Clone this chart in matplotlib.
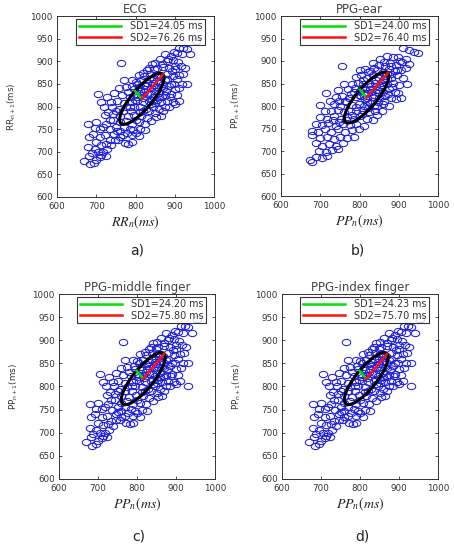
import matplotlib
matplotlib.use("Agg")
import matplotlib.pyplot as plt
from matplotlib.patches import Ellipse
from matplotlib.lines import Line2D
from matplotlib.markers import MarkerStyle
from matplotlib.transforms import Affine2D
import numpy as np

plt.rcParams['font.family'] = ['DejaVu Sans']
plt.rcParams['mathtext.fontset'] = 'stix'

# points
ecg_points = [
    (955, 945), (912, 930), (922, 930), (930, 928),
    (875, 915), (890, 912), (905, 918), (918, 915), (940, 915),
    (763, 897), (850, 897), (862, 905), (880, 900), (895, 903), (908, 898),
    (835, 885), (848, 882), (870, 888), (885, 885), (900, 882), (915, 890), (925, 885),
    (808, 870), (820, 875), (838, 872), (852, 870), (866, 866), (880, 872), (895, 868), (910, 870), (920, 872),
    (770, 858), (800, 855), (815, 858), (830, 852), (845, 852), (860, 855), (875, 858), (890, 850),
    (905, 860), (918, 850), (932, 850),
    (775, 842), (792, 845), (810, 842), (825, 838), (840, 840), (855, 842), (870, 840), (885, 845), (900, 838),
    (705, 827), (765, 825), (785, 822), (800, 828), (815, 825), (830, 828), (845, 822), (860, 830),
    (875, 825), (890, 828), (905, 825),
    (713, 810), (752, 812), (770, 808), (790, 810), (805, 812), (820, 810), (835, 812), (850, 808),
    (865, 810), (880, 812), (895, 810), (910, 812),
    (720, 800), (740, 800), (757, 795), (775, 798), (795, 800), (812, 798), (828, 795), (845, 800),
    (860, 795), (875, 800),
    (743, 784), (730, 788), (722, 781), (760, 780), (780, 778), (797, 782), (815, 780), (830, 775),
    (850, 785), (865, 780),
    (679, 762), (700, 765), (726, 762), (734, 770), (743, 770), (760, 765), (775, 768), (790, 762),
    (808, 765), (823, 762), (840, 768),
    (696, 752), (709, 751), (717, 755), (751, 755), (760, 746), (785, 751), (794, 748), (812, 750), (825, 748),
    (682, 733), (692, 740), (709, 733), (722, 737), (760, 733), (768, 737), (790, 737), (808, 735),
    (679, 711), (700, 722), (713, 716), (726, 718), (734, 725), (747, 727), (756, 727), (773, 720),
    (781, 718), (790, 722),
    (696, 707), (705, 700), (717, 700), (728, 705),
    (668, 680), (682, 690), (700, 682), (710, 688), (684, 672), (695, 675),
    (805, 820), (818, 818), (822, 832), (838, 830), (848, 848), (858, 865), (812, 835), (828, 845),
    (798, 815), (786, 800), (842, 815), (860, 820), (870, 850), (880, 860), (892, 878), (900, 890),
    (688, 698), (712, 692), (724, 690), (738, 715), (745, 740), (735, 750), (752, 745), (770, 755),
    (778, 742), (800, 742), (800, 770), (812, 788), (788, 790), (768, 790), (750, 790), (738, 810),
    (728, 820), (745, 830), (758, 840), (780, 832), (795, 838), (805, 850), (790, 858), (822, 868),
    (830, 880), (842, 895), (855, 885), (868, 895), (882, 905), (898, 920), (860, 870), (848, 860),
    (835, 860), (822, 848), (852, 835), (865, 842), (878, 835), (888, 822), (898, 850), (912, 840),
    (868, 820), (855, 815), (840, 805), (870, 790), (885, 800), (900, 805), (820, 790), (835, 790),
    (853, 777),
]

# points
ear_points = [
    (912, 930), (925, 925), (940, 920), (950, 918),
    (870, 912), (885, 908), (898, 910), (918, 905),
    (755, 890), (835, 895), (850, 892), (862, 898), (878, 895), (893, 892), (908, 898), (925, 893),
    (800, 880), (815, 882), (828, 878), (845, 880), (860, 876), (875, 882), (890, 878), (905, 880), (918, 884),
    (790, 865), (805, 868), (820, 862), (835, 868), (850, 862), (866, 866), (880, 862), (895, 868), (910, 862),
    (760, 850), (780, 848), (795, 852), (810, 850), (825, 848), (840, 852), (855, 846), (870, 850),
    (885, 852), (900, 846), (922, 850),
    (714, 830), (745, 835), (770, 838), (785, 832), (800, 834), (815, 838), (830, 832), (845, 836),
    (860, 832), (875, 838), (890, 832),
    (725, 812), (740, 820), (755, 822), (772, 818), (790, 820), (805, 822), (820, 818), (835, 820),
    (850, 818), (866, 822), (880, 818), (892, 815), (905, 817),
    (700, 802), (735, 805), (750, 800), (765, 808), (782, 802), (798, 805), (812, 800), (828, 806),
    (845, 800), (860, 804), (875, 800),
    (712, 790), (728, 788), (745, 792), (760, 786), (776, 790), (792, 788), (808, 792), (825, 786),
    (840, 790), (858, 788),
    (700, 775), (718, 772), (735, 778), (752, 772), (768, 776), (785, 772), (800, 778), (818, 772),
    (835, 770), (845, 780),
    (690, 760), (705, 758), (720, 762), (740, 756), (757, 760), (775, 758), (790, 760), (812, 755),
    (678, 745), (695, 742), (712, 748), (728, 742), (745, 748), (762, 742), (780, 746), (798, 750),
    (680, 735), (700, 728), (718, 732), (735, 726), (750, 732), (768, 728), (785, 732),
    (690, 718), (705, 712), (722, 716), (740, 712), (758, 718),
    (698, 700), (715, 698), (730, 702), (745, 705),
    (673, 681), (688, 686), (705, 684), (718, 690), (678, 676),
    (815, 815), (822, 828), (830, 845), (842, 858), (806, 840), (798, 825), (852, 842), (860, 858),
    (870, 872), (880, 890), (838, 824), (848, 830),
    (808, 858), (822, 875), (838, 885), (852, 905), (866, 888), (880, 872), (895, 880), (902, 900),
    (812, 828), (828, 838), (842, 845), (856, 852), (870, 860), (884, 842), (898, 828), (818, 808),
    (832, 812), (846, 810), (862, 812), (872, 826), (788, 840), (778, 826), (762, 812), (748, 812),
    (792, 798), (806, 782), (822, 795), (838, 800), (782, 780), (765, 768), (748, 765), (732, 768),
]

# the two finger panels look like panel a plus one outlier at the right
middle_points = ecg_points + [(930, 800)]
index_points = ecg_points + [(930, 800)]

titles = ["ECG", "PPG-ear", "PPG-middle finger", "PPG-index finger"]
sd1_values = [24.05, 24.00, 24.20, 24.23]
sd2_values = [76.26, 76.40, 75.80, 75.70]
centers = [(816, 817), (818, 819), (816, 817), (816, 817)]
xlabels = [r"$RR_n(ms)$", r"$PP_n(ms)$", r"$PP_n(ms)$", r"$PP_n(ms)$"]
ylabels = [r"RR$_{\mathregular{n+1}}$(ms)", r"PP$_{\mathregular{n+1}}$(ms)",
           r"PP$_{\mathregular{n+1}}$(ms)", r"PP$_{\mathregular{n+1}}$(ms)"]
letters = ["a)", "b)", "c)", "d)"]
all_points = [ecg_points, ear_points, middle_points, index_points]

fig = plt.figure(figsize=(4.54, 5.5), dpi=100)

W, H = 454, 550
# axes boxes in pixels: left, top, right, bottom
boxes = [(57, 16, 214, 197), (281, 16, 438, 196), (59, 294, 215, 479), (282, 294, 438, 479)]
letter_pos = [(137, 250), (358, 250), (139, 536), (362, 536)]

blue = '#2020d8'
# the circles in the picture are a little wider than tall
circle = MarkerStyle('o', fillstyle='none', transform=Affine2D().scale(1.35, 1.0))

for i in range(4):
    l, t, r, b = boxes[i]
    ax = fig.add_axes([l / W, 1 - b / H, (r - l) / W, (b - t) / H])
    pts = np.array(all_points[i])
    ax.plot(pts[:, 0], pts[:, 1], linestyle='none', marker=circle, mec=blue, ms=4.5, mew=0.75)

    cx, cy = centers[i]
    sd1, sd2 = sd1_values[i], sd2_values[i]
    ell = Ellipse((cx, cy), 2 * sd2, 2 * sd1, angle=45, fill=False, ec='black', lw=2.2, zorder=3)
    ax.add_patch(ell)
    s = np.sqrt(0.5)
    ax.plot([cx, cx - sd1 * s], [cy, cy + sd1 * s], color='#00e000', lw=1.8, zorder=4)
    ax.plot([cx, cx + sd2 * s], [cy, cy + sd2 * s], color='#ff1010', lw=1.8, zorder=4)

    ax.set_xlim(600, 1000)
    ax.set_ylim(600, 1000)
    ax.set_xticks([600, 700, 800, 900, 1000])
    ax.set_yticks(np.arange(600, 1001, 50))
    ax.tick_params(direction='in', length=2.5, width=0.6, labelsize=6.3,
                   top=True, right=True, colors='#333333')
    ax.tick_params(axis='y', pad=3)
    ax.tick_params(axis='x', pad=3.5)
    for sp in ax.spines.values():
        sp.set_linewidth(0.7)
        sp.set_color('#333333')

    ax.set_title(titles[i], fontsize=8.5, color='#444444', pad=2)
    ax.set_xlabel(xlabels[i], fontsize=10, color='#222222', labelpad=2)
    ax.set_ylabel(ylabels[i], fontsize=6.3, color='#333333', labelpad=9)

    handles = [Line2D([], [], color='#00e000', lw=1.8), Line2D([], [], color='#ff1010', lw=1.8)]
    labs = ["SD1=%.2f ms" % sd1, "SD2=%.2f ms" % sd2]
    leg = ax.legend(handles, labs, loc='upper right', bbox_to_anchor=(0.94, 0.985),
                    fontsize=6.9, frameon=True, fancybox=False, borderaxespad=0,
                    handlelength=4.4, handletextpad=0.9, labelspacing=0.15,
                    borderpad=0.25)
    leg.get_frame().set_edgecolor('black')
    leg.get_frame().set_linewidth(0.8)
    for txt in leg.get_texts():
        txt.set_color('#333333')

    lx, ly = letter_pos[i]
    fig.text(lx / W, 1 - ly / H, letters[i], fontsize=10, ha='center', va='center', color='#222222')

fig.savefig("out.png", dpi=100)
